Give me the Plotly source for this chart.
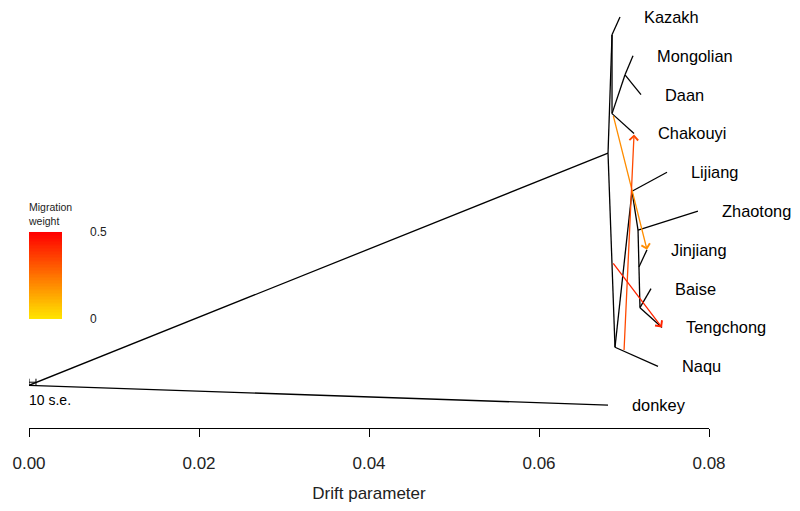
import plotly.graph_objects as go
import numpy as np

# ---- tree data (drift parameter, vertical position) ----
node_names = ["root", "A", "B", "D", "E", "C", "F", "H", "J", "I"]
node_x = [0.0, 0.06812, 0.06859, 0.06859, 0.07012, 0.06894, 0.07094, 0.07165, 0.07176, 0.07188]
node_y = [0.51, 6.49, 9.54, 7.51, 8.51, 1.49, 5.51, 4.51, 3.56, 2.51]

leaf_names = ["Kazakh", "Mongolian", "Daan", "Chakouyi", "Lijiang", "Zhaotong",
              "Jinjiang", "Baise", "Tengchong", "Naqu", "donkey"]
leaf_x = [0.06953, 0.07106, 0.07200, 0.07118, 0.07506, 0.07870,
          0.07270, 0.07318, 0.07447, 0.07400, 0.06812]
leaf_y = [10, 9, 8, 7, 6, 5, 4, 3, 2, 1, 0]

edge_parent = ["root", "root", "A", "A", "B", "B", "D", "D", "E", "E",
               "C", "C", "F", "F", "H", "H", "J", "J", "I", "I"]
edge_child = ["A", "donkey", "B", "C", "Kazakh", "D", "E", "Chakouyi", "Mongolian", "Daan",
              "F", "Naqu", "Lijiang", "H", "Zhaotong", "J", "Jinjiang", "I", "Baise", "Tengchong"]

# ---- migration edges ----
mig_from_x = [0.06870, 0.07000, 0.06860]
mig_from_y = [7.49, 1.38, 3.69]
mig_to_x = [0.07271, 0.07118, 0.07447]
mig_to_y = [4.00, 6.97, 2.00]
mig_weight = [0.19, 0.34, 0.42]

# ---- legend / scale ----
weight_range = [0.0, 0.5]
weight_labels = ["0", "0.5"]
se_length = 0.00082
se_label = "10 s.e."

x_ticks = [0.00, 0.02, 0.04, 0.06, 0.08]
x_ticktext = ["0.00", "0.02", "0.04", "0.06", "0.08"]

FONT = "Liberation Sans, Arial, Helvetica, sans-serif"


def wcolor(w):
    t = (w - weight_range[0]) / (weight_range[1] - weight_range[0])
    g = int(round(228 * (1 - t)))
    return f"rgb(255,{g},0)"


coords = {}
for n, x, y in zip(node_names, node_x, node_y):
    coords[n] = (x, y)
for n, x, y in zip(leaf_names, leaf_x, leaf_y):
    coords[n] = (x, y)

tx, ty = [], []
for p, c in zip(edge_parent, edge_child):
    tx += [coords[p][0], coords[c][0], None]
    ty += [coords[p][1], coords[c][1], None]

fig = go.Figure()

# colour legend as a heatmap
nlev = 60
lg_y0, lg_y1 = 2.23, 4.46
lg_x = [0.0, 0.00388]
yedges = np.linspace(lg_y0, lg_y1, nlev + 1)
zvals = np.linspace(weight_range[0], weight_range[1], nlev).reshape(-1, 1)
fig.add_trace(go.Heatmap(
    x=lg_x, y=yedges, z=zvals,
    colorscale=[[0, wcolor(weight_range[0])], [1, wcolor(weight_range[1])]],
    zmin=weight_range[0], zmax=weight_range[1], showscale=False, hoverinfo="skip"))

fig.add_trace(go.Scatter(x=tx, y=ty, mode="lines",
                         line=dict(color="black", width=1.3),
                         hoverinfo="skip", showlegend=False))

# scale bar
sb_y = 0.59
sb_h = 0.09
fig.add_trace(go.Scatter(
    x=[0, se_length, None, 0, 0, None, se_length, se_length],
    y=[sb_y, sb_y, None, sb_y - sb_h, sb_y + sb_h, None, sb_y - sb_h, sb_y + sb_h],
    mode="lines", line=dict(color="black", width=1), hoverinfo="skip", showlegend=False,
    cliponaxis=False))

annotations = []
for n, x, y in zip(leaf_names, leaf_x, leaf_y):
    annotations.append(dict(x=x, y=y, xref="x", yref="y", text=n, showarrow=False,
                            xanchor="left", yanchor="middle", xshift=22,
                            font=dict(family=FONT, size=16.4, color="black")))

for fx, fy, tx_, ty_, w in zip(mig_from_x, mig_from_y, mig_to_x, mig_to_y, mig_weight):
    annotations.append(dict(x=tx_, y=ty_, ax=fx, ay=fy, xref="x", yref="y",
                            axref="x", ayref="y", text="", showarrow=True,
                            arrowhead=4, arrowsize=1.3, arrowwidth=1.3,
                            arrowcolor=wcolor(w), standoff=0, startstandoff=0))

annotations.append(dict(x=0.0, y=4.93, xref="x", yref="y", text="Migration<br>weight",
                        showarrow=False, xanchor="left", yanchor="middle", align="left",
                        xshift=-3,
                        font=dict(family=FONT, size=10.5, color="#222")))
annotations.append(dict(x=0.00694, y=lg_y1, xref="x", yref="y", text=weight_labels[1],
                        showarrow=False, xanchor="left", yanchor="middle",
                        font=dict(family=FONT, size=12, color="#222")))
annotations.append(dict(x=0.00694, y=lg_y0, xref="x", yref="y", text=weight_labels[0],
                        showarrow=False, xanchor="left", yanchor="middle",
                        font=dict(family=FONT, size=12, color="#222")))
annotations.append(dict(x=0.0, y=0.13, xref="x", yref="y", text=se_label,
                        showarrow=False, xanchor="left", yanchor="middle", xshift=-2,
                        font=dict(family=FONT, size=14, color="black")))

# page body has an 8px margin: figure starts at (8, 8) in the window
fig.update_layout(
    width=784, height=495,
    margin=dict(l=21, r=83, t=0, b=73),
    paper_bgcolor="white", plot_bgcolor="white",
    showlegend=False,
    annotations=annotations,
    xaxis=dict(range=[0, 0.08], showgrid=False, zeroline=False,
               showline=True, linecolor="black", linewidth=1,
               ticks="outside", ticklen=8, tickcolor="black", tickwidth=1,
               tickvals=x_ticks, ticktext=x_ticktext, ticklabelstandoff=12,
               tickfont=dict(family=FONT, size=17, color="#222"),
               title=dict(text="Drift parameter", standoff=18,
                          font=dict(family=FONT, size=17, color="#222"))),
    yaxis=dict(range=[(407 - 430) / 39, (407 - 8) / 39], visible=False),
)

fig.write_html("out.html")
